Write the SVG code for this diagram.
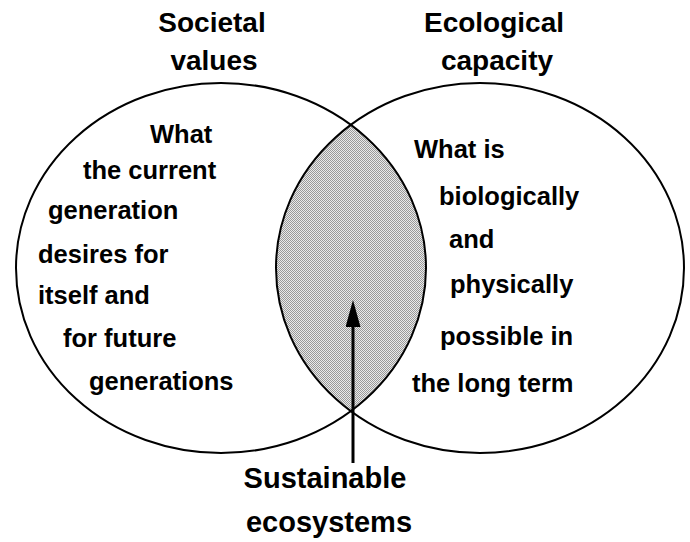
<svg xmlns="http://www.w3.org/2000/svg" width="690" height="542" viewBox="0 0 690 542">
  <style>
    text { font-family: "Liberation Sans", Arial, sans-serif; font-weight: bold; fill: #000; }
    .title { font-size: 28px; text-anchor: middle; }
    .body { font-size: 25.5px; }
    .label { font-size: 29px; text-anchor: middle; }
    .outline { fill: none; stroke: #000; stroke-width: 2; }
    .connector { stroke: #000; stroke-width: 3; fill: none; }
  </style>
  <defs>
    <!-- fine checker stipple used for the shared region -->
    <pattern id="stipple" patternUnits="userSpaceOnUse" width="2" height="2">
      <rect width="2" height="2" fill="#eaeaea"/>
      <rect x="0" y="0" width="1" height="1" fill="#999"/>
      <rect x="1" y="1" width="1" height="1" fill="#999"/>
    </pattern>
    <clipPath id="left-clip">
      <ellipse cx="221" cy="268" rx="205" ry="185"/>
    </clipPath>
    <marker id="arrowhead" markerUnits="userSpaceOnUse" markerWidth="27" markerHeight="16" refX="0" refY="7.5" orient="auto">
      <path d="M0,0 L27,7.5 L0,15 Z" fill="#000"/>
    </marker>
  </defs>

  <rect width="690" height="542" fill="#fff"/>

  <!-- overlap of the two ellipses -->
  <g id="overlap">
    <ellipse cx="480" cy="268" rx="204" ry="185" fill="url(#stipple)" clip-path="url(#left-clip)"/>
  </g>

  <g id="societal-values">
    <ellipse class="outline" cx="221" cy="268" rx="205" ry="185"/>
    <text class="title" x="212" y="32">Societal</text>
    <text class="title" x="214" y="70">values</text>
    <text class="body" x="150" y="143">What</text>
    <text class="body" x="83" y="179">the current</text>
    <text class="body" x="48" y="219">generation</text>
    <text class="body" x="38" y="263">desires for</text>
    <text class="body" x="38" y="304">itself and</text>
    <text class="body" x="63" y="347">for future</text>
    <text class="body" x="89" y="390">generations</text>
  </g>

  <g id="ecological-capacity">
    <ellipse class="outline" cx="480" cy="268" rx="204" ry="185"/>
    <text class="title" x="494" y="32">Ecological</text>
    <text class="title" x="497" y="70">capacity</text>
    <text class="body" x="414" y="158">What is</text>
    <text class="body" x="439" y="205">biologically</text>
    <text class="body" x="449" y="248">and</text>
    <text class="body" x="450" y="293">physically</text>
    <text class="body" x="440" y="345">possible in</text>
    <text class="body" x="412" y="392">the long term</text>
  </g>

  <g id="sustainable-ecosystems">
    <text class="label" x="325" y="488">Sustainable</text>
    <text class="label" x="329" y="532">ecosystems</text>
  </g>

  <g id="connectors">
    <line class="connector" x1="353" y1="463" x2="353" y2="327" marker-end="url(#arrowhead)"/>
  </g>
</svg>
